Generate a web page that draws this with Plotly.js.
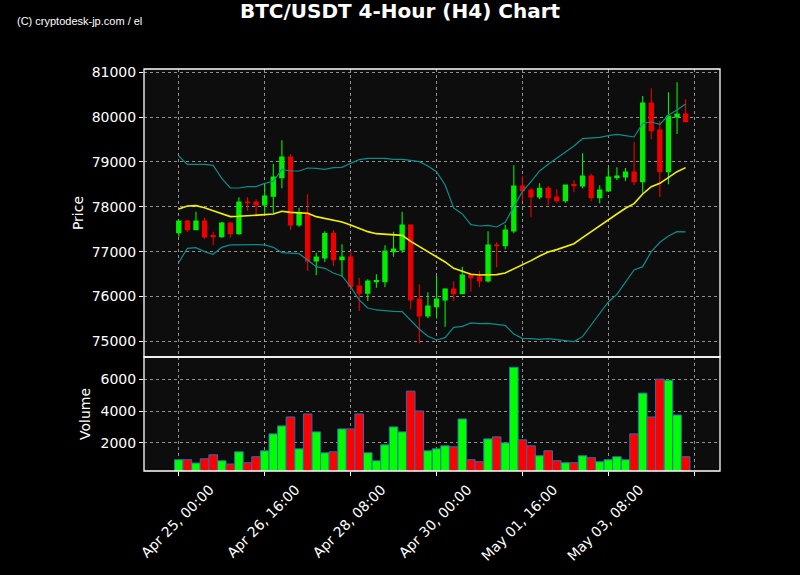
<!DOCTYPE html>
<html>
<head>
<meta charset="utf-8">
<script src="https://cdn.plot.ly/plotly-3.0.1.min.js"></script>
<style>
  html, body { margin: 0; padding: 0; background: #000; }
  #chart { width: 800px; height: 575px; }
</style>
</head>
<body>
<div id="chart"></div>
<script>
// ---- Data (4-hour candles, index 0 = Apr 25 00:00) ----
const candleIndex = [0,1,2,3,4,5,6,7,8,9,10,11,12,13,14,15,16,17,18,19,20,21,22,23,24,25,26,27,28,29,30,31,32,33,34,35,36,37,38,39,40,41,42,43,44,45,46,47,48,49,50,51,52,53,54,55,56,57,58,59];

const openPrices = [77424,77684,77491,77684,77357,77335,77639,77401,78108,78108,
  78041,78235,78651,79112,77595,77855,76792,76859,77401,76822,
  76881,76234,76071,76331,76331,77000,77037,77595,75944,75565,
  75773,75922,76167,76063,76480,76435,76346,77149,77134,77461,
  78465,78375,78219,78413,78219,78138,78494,78465,78688,78204,
  78353,78651,78665,78777,78561,80316,79714,78784,80004,80071];
const highPrices = [77700,77706,77892,77758,77446,77662,77662,78212,78212,78167,
  78524,78963,79483,79171,77981,78279,76978,77453,77476,77164,
  77015,76420,76383,76494,77141,77446,77892,77610,76271,76093,
  76457,76182,76338,76665,76517,76576,77453,77208,77602,78926,
  78680,78427,78524,78465,78390,78500,78591,79193,78740,78480,
  78866,78881,78866,79439,80472,80643,79922,80554,80777,80398];
const lowPrices = [77335,77446,77480,77290,77141,77312,77312,77379,77914,77796,
  77855,77855,78413,77476,77558,76569,76472,76770,76680,76435,
  76145,75677,75900,76197,76204,76888,76978,75714,74955,75513,
  75506,75327,75907,76048,76108,76204,76309,76651,77052,77409,
  78130,77766,78167,78033,78093,78093,78323,78413,78130,78078,
  78353,78598,78576,78480,78316,79506,78219,78502,79625,79900];
const closePrices = [77684,77491,77684,77327,77335,77639,77401,78108,78093,78041,
  78242,78665,79112,77595,77870,76792,76881,77401,76822,76881,
  76219,76071,76346,76353,77015,77059,77595,75922,75565,75788,
  75944,76167,76063,76480,76420,76346,77149,77134,77483,78465,
  78361,78219,78413,78204,78138,78487,78472,78688,78204,78375,
  78665,78688,78777,78561,80316,79699,78784,80026,80071,79900];

const volumes = [938,938,730,1000,1250,875,667,1437,750,1125,
  1500,2563,3063,3625,1625,3813,2688,1375,1437,2875,
  2875,3813,1375,875,1875,3000,2688,5250,4000,1500,
  1625,1813,1750,3500,938,813,2250,2375,2000,6750,
  2188,1813,1188,1500,875,750,750,1188,1063,813,
  938,1125,938,2563,5125,3625,6000,5937,3750,1125];

const bbMiddle = [77952,78019,78026,77981,77914,77840,77781,77788,77796,77803,
  77825,77840,77900,77877,77870,77855,77781,77743,77699,77662,
  77595,77513,77446,77401,77394,77379,77364,77230,77111,76993,
  76888,76770,76628,76569,76494,76480,76480,76487,76524,76613,
  76695,76799,76903,76993,77045,77119,77178,77312,77446,77580,
  77721,77840,77967,78071,78286,78450,78524,78658,78784,78874];
const bbUpper = [79134,78948,78948,78948,78926,78636,78420,78420,78450,78450,
  78524,78569,78836,78799,78799,78866,78859,78836,78873,78881,
  78970,79052,79082,79089,79082,79059,79059,79037,79007,78911,
  78784,78487,77974,77840,77602,77572,77587,77550,77654,78004,
  78338,78561,78799,78948,79082,79230,79357,79520,79528,79550,
  79587,79617,79587,79558,79862,79892,79840,80048,80160,80294];
const bbLower = [76762,77074,77089,77000,76940,77097,77149,77156,77156,77156,
  77149,77097,76978,76970,76955,76814,76665,76628,76524,76457,
  76219,75922,75743,75699,75677,75669,75662,75468,75268,75111,
  75030,75082,75312,75335,75409,75394,75401,75379,75357,75164,
  75067,75059,75045,75059,75045,75015,74993,75104,75364,75610,
  75877,76048,76316,76591,76665,77000,77208,77349,77446,77439];

const xTickVals = [0,10,20,30,40,50,60];
const xTickLabels = ['Apr 25, 00:00','Apr 26, 16:00','Apr 28, 08:00','Apr 30, 00:00','May 01, 16:00','May 03, 08:00',''];
const priceTicks = [75000,76000,77000,78000,79000,80000,81000];
const volumeTicks = [2000,4000,6000];

// ---- Styles ----
const UP_CANDLE = '#00ee00', DOWN_CANDLE = '#ee0000';
const UP_VOL = '#00ff00', DOWN_VOL = '#ff0000';
const volColors = closePrices.map((c, i) => c >= openPrices[i] ? UP_VOL : DOWN_VOL);

const volDomainTop = 114 / 402;
const fontMain = 'DejaVu Sans, sans-serif';
const gridCol = 'rgba(190,190,190,0.75)';

const traces = [
  {
    type: 'candlestick', x: candleIndex,
    open: openPrices, high: highPrices, low: lowPrices, close: closePrices,
    xaxis: 'x', yaxis: 'y',
    increasing: { line: { color: UP_CANDLE, width: 1.1 }, fillcolor: UP_CANDLE },
    decreasing: { line: { color: DOWN_CANDLE, width: 1.1 }, fillcolor: DOWN_CANDLE },
    whiskerwidth: 0, hoverinfo: 'skip', showlegend: false
  },
  { type: 'scatter', mode: 'lines', x: candleIndex, y: bbUpper, xaxis: 'x', yaxis: 'y',
    line: { color: '#0e8c8c', width: 1.2 }, hoverinfo: 'skip', showlegend: false },
  { type: 'scatter', mode: 'lines', x: candleIndex, y: bbLower, xaxis: 'x', yaxis: 'y',
    line: { color: '#0e8c8c', width: 1.2 }, hoverinfo: 'skip', showlegend: false },
  { type: 'scatter', mode: 'lines', x: candleIndex, y: bbMiddle, xaxis: 'x', yaxis: 'y',
    line: { color: '#f2f200', width: 1.6 }, hoverinfo: 'skip', showlegend: false },
  {
    type: 'bar', x: candleIndex, y: volumes, xaxis: 'x', yaxis: 'y2', width: 1,
    marker: { color: volColors, line: { color: '#2a6fb0', width: 1 } },
    hoverinfo: 'skip', showlegend: false
  }
];

const layout = {
  width: 800, height: 575,
  paper_bgcolor: '#000000', plot_bgcolor: '#0d0d0d',
  margin: { l: 144, r: 80, t: 69, b: 104, pad: 0 },
  font: { family: fontMain, color: '#ffffff', size: 14 },
  title: { text: '<b>BTC/USDT 4-Hour (H4) Chart</b>', x: 0.5, xanchor: 'center', y: 1 - 11/575, yanchor: 'middle',
           font: { family: 'DejaVu Sans, sans-serif', size: 20, color: '#ffffff' } },
  showlegend: false,
  xaxis: {
    anchor: 'y2', range: [-4.05, 63.0], tickmode: 'array', tickvals: xTickVals, ticktext: xTickLabels,
    tickangle: -45, ticks: 'outside', ticklen: 4, tickcolor: '#ffffff', tickwidth: 1,
    ticklabelshift: 31, ticklabelstandoff: 0,
    showgrid: true, gridcolor: gridCol, griddash: 'dot', gridwidth: 1,
    zeroline: false, showline: false, rangeslider: { visible: false },
    tickfont: { family: fontMain, size: 14, color: '#ffffff' }
  },
  yaxis: {
    domain: [volDomainTop, 1], range: [74650, 81074], tickmode: 'array', tickvals: priceTicks, tickformat: 'd',
    ticks: 'outside', ticklen: 4, tickcolor: '#ffffff',
    showgrid: true, gridcolor: gridCol, griddash: 'dot', zeroline: false, showline: false,
    title: { text: 'Price', standoff: 4, font: { family: fontMain, size: 14, color: '#ffffff' } },
    tickfont: { family: fontMain, size: 14, color: '#ffffff' }
  },
  yaxis2: {
    domain: [0, volDomainTop], range: [230, 7394], tickmode: 'array', tickvals: volumeTicks, tickformat: 'd',
    ticks: 'outside', ticklen: 4, tickcolor: '#ffffff',
    showgrid: true, gridcolor: gridCol, griddash: 'dot', zeroline: false, showline: false,
    title: { text: 'Volume', standoff: 6, font: { family: fontMain, size: 14, color: '#ffffff' } },
    tickfont: { family: fontMain, size: 14, color: '#ffffff' }
  },
  bargap: 0,
  shapes: [
    { type: 'rect', xref: 'paper', yref: 'paper', x0: 0, x1: 1, y0: volDomainTop, y1: 1,
      line: { color: '#ffffff', width: 1.3 }, fillcolor: 'rgba(0,0,0,0)', layer: 'above' },
    { type: 'rect', xref: 'paper', yref: 'paper', x0: 0, x1: 1, y0: 0, y1: volDomainTop,
      line: { color: '#ffffff', width: 1.3 }, fillcolor: 'rgba(0,0,0,0)', layer: 'above' }
  ],
  annotations: [
    { text: '(C) cryptodesk-jp.com / el', xref: 'paper', yref: 'paper',
      x: -129/576, y: 1 + (69-21)/402, xanchor: 'left', yanchor: 'middle', showarrow: false,
      font: { family: 'Liberation Sans Narrow, Liberation Sans, Arial, sans-serif', size: 11, color: '#ffffff' } }
  ]
};

Plotly.newPlot('chart', traces, layout, { staticPlot: true, displayModeBar: false });
</script>
</body>
</html>
